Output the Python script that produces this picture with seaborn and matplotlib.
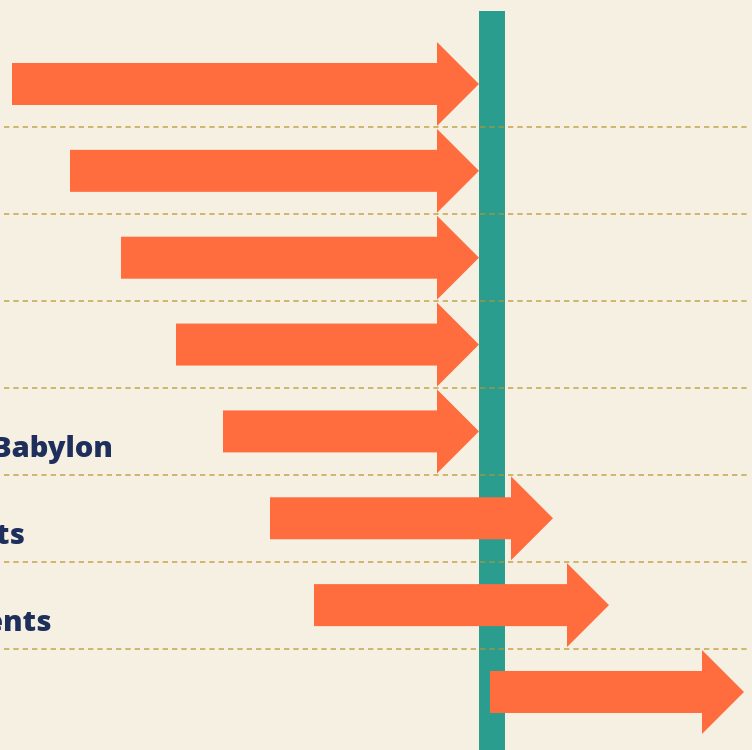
import matplotlib
matplotlib.use("Agg")
import matplotlib.pyplot as plt
import seaborn as sns
import pandas as pd

# ---- data (years, negative = BCE) ----
labels = ["Stonehenge", "Great Pyramid", "Indus Cities", "Minoan Palaces",
          "Hanging Gardens of Babylon", "Phoenician Merchants",
          "Greek Stone Ornaments", "Roman Colosseum"]
starts = [-2335, -2045, -1790, -1515, -1280, -1045, -825, 55]
ends = [0, 0, 0, 0, 0, 370, 650, 1325]
ref_start = 0
ref_end = 130

BG = "#F6F0E3"
ORANGE = "#FF6D3F"
TEAL = "#2A9D8F"
NAVY = "#1F2F5C"
GOLD = "#B8962E"

sns.set_theme(style="white", rc={"figure.facecolor": BG, "axes.facecolor": BG})
plt.rcParams["font.family"] = ["Open Sans", "DejaVu Sans"]

df = pd.DataFrame({"label": labels, "start": starts, "end": ends})
df["row"] = range(len(df))

fig = plt.figure(figsize=(7.52, 7.5), dpi=100)
ax = fig.add_axes([0, 0, 1, 1])
ax.set_xlim(-2395, 1365)
ax.set_ylim(7.668, -0.967)
ax.set_axis_off()

# reference band
ax.axvspan(ref_start, ref_end, ymin=0, ymax=0.985, color=TEAL, lw=0, zorder=1)

# arrows
px_x = 5.0      # data units per pixel horizontally
px_y = 1 / 86.86
for _, r in df.iterrows():
    ax.arrow(r["start"], r["row"], r["end"] - r["start"], 0,
             width=42 * px_y, head_width=84 * px_y, head_length=42 * px_x,
             length_includes_head=True, color=ORANGE, lw=0, zorder=3)

# dashed separators
for i in range(len(df) - 1):
    ax.hlines(i + 0.5, -2375, 1340, colors=GOLD, alpha=0.75, lw=1.2,
              linestyles=(0, (3.2, 2.4)), zorder=4)

# labels
label_x = -3945
for _, r in df.iterrows():
    ax.text(label_x, r["row"] + 0.30, r["label"], ha="left", va="baseline",
            fontsize=21, fontweight=800, color=NAVY, zorder=5)

sns.despine(ax=ax, left=True, bottom=True)
fig.savefig("out.png", dpi=100, facecolor=BG)
